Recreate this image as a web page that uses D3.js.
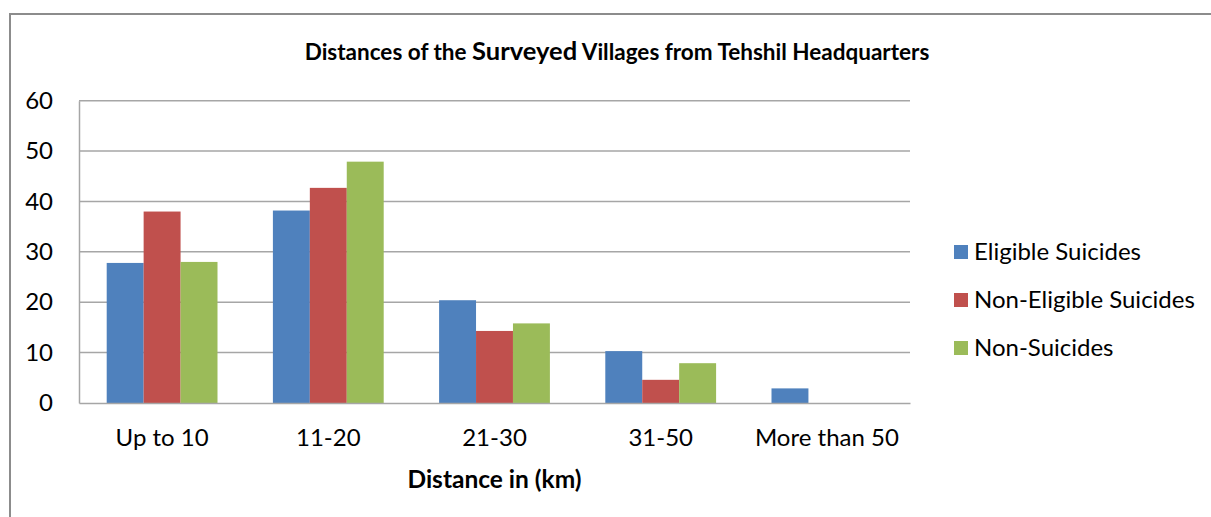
<!DOCTYPE html>
<html><head><meta charset="utf-8">
<script src="https://cdn.jsdelivr.net/npm/d3@7"></script>
<style>body{margin:0;background:#fff}svg{display:block}</style>
</head><body>
<svg id="c" width="1211" height="517"></svg>
<script>
const categories = ["Up to 10", "11-20", "21-30", "31-50", "More than 50"];
const seriesNames = ["Eligible Suicides", "Non-Eligible Suicides", "Non-Suicides"];
const eligible = [27.8, 38.2, 20.4, 10.3, 2.9];
const nonEligible = [38.0, 42.7, 14.3, 4.6, 0];
const nonSuicides = [28.0, 47.9, 15.8, 7.9, 0];
const yTicks = [0, 10, 20, 30, 40, 50, 60];
const colors = ["#4F81BD", "#C0504D", "#9BBB59"];
const seriesValues = [eligible, nonEligible, nonSuicides];

const svg = d3.select("#c");
const font = "Lato, 'Open Sans', sans-serif";
const fs = 24;
// outer frame
svg.append("rect").attr("x", 10).attr("y", 14).attr("width", 1300).attr("height", 600)
  .attr("fill", "none").attr("stroke", "#8c8c8c").attr("stroke-width", 2);

const L = 79, R = 910, T = 100.7, B = 403;
const x0 = d3.scaleBand().domain(categories).range([L, R]).paddingInner(0).paddingOuter(0);
const y = d3.scaleLinear().domain([0, 60]).range([B, T]);
const bw = x0.bandwidth() / (3 + 1.5);
const x1 = d3.scaleBand().domain(d3.range(3)).range([bw * 0.75, bw * 0.75 + bw * 3]);

// gridlines
svg.append("g").selectAll("line").data(yTicks.slice(1)).join("line")
  .attr("x1", L).attr("x2", R).attr("y1", d => y(d)).attr("y2", d => y(d))
  .attr("stroke", "#a6a6a6").attr("stroke-width", 1.5);

// y axis
const yAxis = d3.axisLeft(y).tickValues(yTicks).tickSize(0).tickPadding(26);
const yg = svg.append("g").attr("transform", `translate(${L},0)`).call(yAxis);
yg.select(".domain").attr("stroke", "#a6a6a6").attr("stroke-width", 1.5);
yg.selectAll("text").attr("font-family", font).attr("font-size", fs).attr("fill", "#000");

// bars
const data = [];
categories.forEach((c, i) => seriesValues.forEach((s, j) => data.push({c, j, v: s[i]})));
svg.append("g").selectAll("rect").data(data.filter(d => d.v > 0)).join("rect")
  .attr("x", d => x0(d.c) + x1(d.j)).attr("width", x1.bandwidth())
  .attr("y", d => y(d.v)).attr("height", d => B - y(d.v))
  .attr("fill", d => colors[d.j]);

// x axis
const xAxis = d3.axisBottom(x0).tickSize(0).tickPadding(26);
const xg = svg.append("g").attr("transform", `translate(0,${B})`).call(xAxis);
xg.select(".domain").attr("stroke", "#a6a6a6").attr("stroke-width", 1.5);
xg.selectAll("text").attr("font-family", font).attr("font-size", fs).attr("fill", "#000");

// axis title
svg.append("text").attr("x", (L + R) / 2).attr("y", 488).attr("text-anchor", "middle")
  .attr("font-family", font).attr("font-weight", "bold").attr("font-size", 24.5).text("Distance in (km)");

// title
const t = svg.append("text").attr("x", 617).attr("y", 60).attr("text-anchor", "middle")
  .attr("font-family", font).attr("font-weight", "bold").attr("font-size", 22.5);
t.append("tspan").text("Distances of the ");
t.append("tspan").attr("font-size", 25.5).text("Surveyed");
t.append("tspan").text(" Villages from Tehshil Headquarters");

// legend
const lg = svg.append("g").selectAll("g").data(seriesNames).join("g")
  .attr("transform", (d, i) => `translate(954,${252 + i * 48})`);
lg.append("rect").attr("x", 0).attr("y", -7).attr("width", 14).attr("height", 14).attr("fill", (d, i) => colors[i]);
lg.append("text").attr("x", 20).attr("y", 8).attr("font-family", font).attr("font-size", fs).text(d => d);
</script>
</body></html>
